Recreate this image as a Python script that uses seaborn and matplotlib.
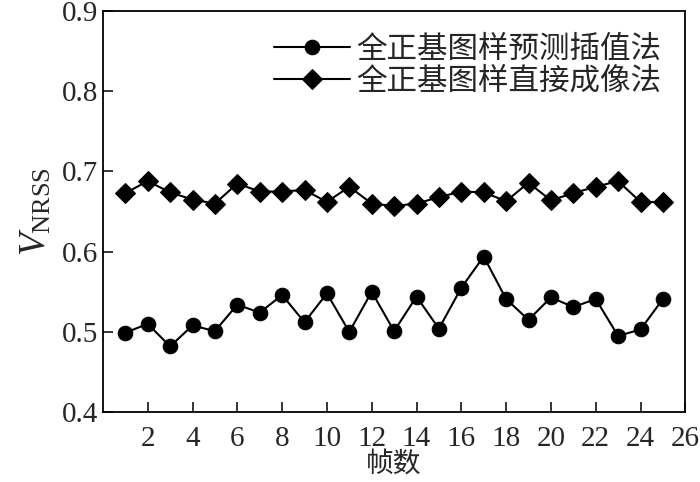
import pandas as pd
import seaborn as sns
import matplotlib.pyplot as plt

frames = list(range(1, 26))
interp_vals = [0.499, 0.510, 0.482, 0.508, 0.501, 0.534, 0.524, 0.546, 0.512, 0.548,
               0.500, 0.550, 0.501, 0.544, 0.504, 0.555, 0.594, 0.541, 0.515, 0.543,
               0.531, 0.541, 0.495, 0.503, 0.541]
direct_vals = [0.673, 0.688, 0.674, 0.665, 0.660, 0.685, 0.675, 0.675, 0.677, 0.662,
               0.681, 0.660, 0.657, 0.660, 0.668, 0.675, 0.674, 0.663, 0.686, 0.664,
               0.673, 0.681, 0.688, 0.662, 0.662]
labels = ['全正基图样预测插值法', '全正基图样直接成像法']
xticks = list(range(2, 27, 2))
yticks = [0.4, 0.5, 0.6, 0.7, 0.8, 0.9]

sns.set_style('ticks')
plt.rcParams['font.family'] = ['Liberation Serif', 'Noto Sans CJK SC']
plt.rcParams['mathtext.fontset'] = 'custom'
plt.rcParams['mathtext.rm'] = 'Liberation Serif'
plt.rcParams['mathtext.it'] = 'Liberation Serif:italic'
plt.rcParams['xtick.direction'] = 'in'
plt.rcParams['ytick.direction'] = 'in'

df = pd.DataFrame({'frame': frames * 2,
                   'value': interp_vals + direct_vals,
                   'method': [labels[0]] * 25 + [labels[1]] * 25})

fig = plt.figure(figsize=(7, 4.82), dpi=100)
ax = fig.add_axes([0.147, 0.145, 0.832, 0.832])
sns.lineplot(data=df, x='frame', y='value', hue='method', style='method',
             palette=['black', 'black'], markers=['o', 'D'], dashes=False,
             markersize=10.5, markeredgecolor='black', linewidth=1.5, ax=ax)

ax.set_xlim(0, 26)
ax.set_ylim(0.4, 0.9)
ax.set_xticks(xticks)
ax.set_yticks(yticks)
ax.set_yticklabels(['%.1f' % v for v in yticks])
ax.tick_params(labelsize=21, length=7, width=1.3)
ax.tick_params(axis='x', pad=10)
for s in ax.spines.values():
    s.set_linewidth(1.3)
    s.set_color('black')
ax.set_xlabel('帧数', fontsize=20, labelpad=0)
ax.set_ylabel('$V_{\\mathrm{NRSS}}$', fontsize=27, labelpad=6)

leg = ax.legend(loc='upper right', frameon=False, fontsize=22, handlelength=2.5,
                handletextpad=0.2, labelspacing=0.1, borderaxespad=0.2,
                bbox_to_anchor=(0.99, 0.985))

fig.savefig('out.png', dpi=100)
